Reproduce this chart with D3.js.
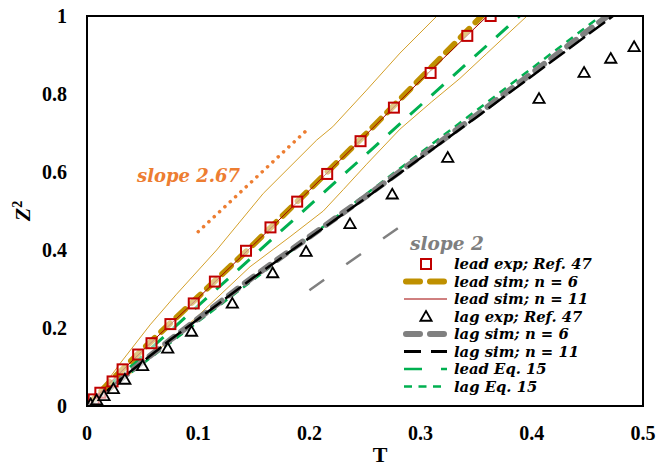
<!DOCTYPE html>
<html>
<head>
<meta charset="utf-8">
<script src="https://cdn.jsdelivr.net/npm/d3@7"></script>
<style>
  body { margin: 0; background: #fff; }
  svg { display: block; }
</style>
</head>
<body>
<div id="chart"></div>
<script>
// lead experiment (Ref. 47)
var leadExpT = [0, 0.006, 0.012, 0.023, 0.032, 0.046, 0.058, 0.075, 0.096, 0.115, 0.143, 0.165, 0.189, 0.216, 0.246, 0.276, 0.309, 0.342, 0.363];
var leadExpZ = [0, 0.017, 0.034, 0.063, 0.094, 0.132, 0.161, 0.21, 0.263, 0.319, 0.398, 0.458, 0.524, 0.595, 0.679, 0.765, 0.854, 0.949, 1.0];
// lag experiment (Ref. 47)
var lagExpT = [0, 0.0033, 0.0087, 0.0153, 0.0237, 0.034, 0.05, 0.0726, 0.094, 0.1307, 0.167, 0.197, 0.2365, 0.2745, 0.3244, 0.4065, 0.447, 0.471, 0.492];
var lagExpZ = [0, 0.005, 0.015, 0.026, 0.044, 0.068, 0.103, 0.148, 0.191, 0.263, 0.341, 0.396, 0.467, 0.543, 0.637, 0.788, 0.855, 0.891, 0.921];
// simulations
var leadSim6T = [0, 0.02, 0.05, 0.1, 0.15, 0.2, 0.25, 0.3, 0.355];
var leadSim6Z = [0, 0.06, 0.145, 0.28, 0.415, 0.555, 0.695, 0.84, 1.0];
var leadSim11T = [0, 0.02, 0.05, 0.1, 0.15, 0.2, 0.25, 0.3, 0.36];
var leadSim11Z = [0, 0.058, 0.142, 0.277, 0.414, 0.553, 0.693, 0.835, 1.0];
var lagSim6T = [0, 0.075, 0.15, 0.2545, 0.35, 0.468];
var lagSim6Z = [0, 0.17, 0.332, 0.545, 0.745, 1.0];
var lagSim11T = [0, 0.0746, 0.15, 0.2545, 0.35, 0.473];
var lagSim11Z = [0, 0.169, 0.33, 0.541, 0.74, 1.0];
// thin bands around lead sim
var bandUpT = [0, 0.012, 0.03, 0.0567, 0.08, 0.1166, 0.1585, 0.2066, 0.221, 0.2515, 0.2815, 0.3147];
var bandUpZ = [0, 0.04, 0.11, 0.208, 0.285, 0.4, 0.545, 0.682, 0.716, 0.81, 0.905, 1.0];
var bandLowT = [0, 0.02, 0.05, 0.0956, 0.1466, 0.1826, 0.2125, 0.2305, 0.2515, 0.2815, 0.31, 0.3354, 0.3595, 0.3957];
var bandLowZ = [0, 0.035, 0.11, 0.22, 0.357, 0.434, 0.5, 0.555, 0.62, 0.71, 0.78, 0.84, 0.904, 1.0];
// Eq. 15
var leadEqT = [0, 0.389];
var leadEqZ = [0, 1.0];
var lagEqT = [0, 0.462];
var lagEqZ = [0, 1.0];
// slope guides
var slope267T = [0.1, 0.196];
var slope267Z = [0.447, 0.703];
var slope2T = [0.2, 0.28];
var slope2Z = [0.297, 0.457];

var xTicks = [0, 0.1, 0.2, 0.3, 0.4, 0.5];
var yTicks = [0, 0.2, 0.4, 0.6, 0.8, 1];

var legendLabels = ['lead exp; Ref. 47', 'lead sim; n = 6', 'lead sim; n = 11', 'lag exp; Ref. 47',
    'lag sim; n = 6', 'lag sim; n = 11', 'lead Eq. 15', 'lag Eq. 15'];

var W = 658, H = 466;
var m = { left: 87, right: 15, top: 16, bottom: 60 };

var svg = d3.select('#chart').append('svg').attr('width', W).attr('height', H);

var x = d3.scaleLinear().domain([0, 0.5]).range([m.left, W - m.right]);
var y = d3.scaleLinear().domain([0, 1]).range([H - m.bottom, m.top]);

function pts(ts, zs) {
    return ts.map(function (t, i) { return [t, zs[i]]; });
}
var line = d3.line().x(function (d) { return x(d[0]); }).y(function (d) { return y(d[1]); });

svg.append('defs').append('clipPath').attr('id', 'plotclip')
    .append('rect').attr('x', x(0)).attr('y', y(1)).attr('width', x(0.5) - x(0)).attr('height', y(0) - y(1));

var g = svg.append('g').attr('clip-path', 'url(#plotclip)');

function drawLine(data, color, width, dash, cap) {
    return g.append('path').datum(data)
        .attr('d', line)
        .attr('fill', 'none')
        .attr('stroke', color)
        .attr('stroke-width', width)
        .attr('stroke-dasharray', dash || null)
        .attr('stroke-linecap', cap || 'butt');
}

// bands
drawLine(pts(bandUpT, bandUpZ), '#D4A02A', 1);
drawLine(pts(bandLowT, bandLowZ), '#D4A02A', 1);
// Eq 15
drawLine(pts(leadEqT, leadEqZ), '#00B050', 3, '16 13');
drawLine(pts(lagEqT, lagEqZ), '#00B050', 2.5, '8 6');
// lag sims
drawLine(pts(lagSim6T, lagSim6Z), '#808080', 6, '11 9', 'round');
drawLine(pts(lagSim11T, lagSim11Z), '#000', 2.5, '20 5');
// lead sims
drawLine(pts(leadSim6T, leadSim6Z), '#BF9000', 6, '12 9', 'round');
drawLine(pts(leadSim11T, leadSim11Z), '#A00000', 1);
// slope guides
drawLine(pts(slope267T, slope267Z), '#ED7D31', 3.5, '0.1 7.2', 'round');
drawLine(pts(slope2T, slope2Z), '#808080', 2.5, '18 27');

// markers
var sq = 10;
g.selectAll('rect.lead').data(pts(leadExpT, leadExpZ)).enter().append('rect')
    .attr('class', 'lead')
    .attr('x', function (d) { return x(d[0]) - sq / 2; })
    .attr('y', function (d) { return y(d[1]) - sq / 2; })
    .attr('width', sq).attr('height', sq)
    .attr('fill', '#fff').attr('fill-opacity', 0.5)
    .attr('stroke', '#C00000').attr('stroke-width', 2);

var tri = d3.symbol().type(d3.symbolTriangle).size(55);
g.selectAll('path.lag').data(pts(lagExpT, lagExpZ)).enter().append('path')
    .attr('class', 'lag')
    .attr('d', tri)
    .attr('transform', function (d) { return 'translate(' + x(d[0]) + ',' + (y(d[1]) + 1) + ')'; })
    .attr('fill', '#fff').attr('fill-opacity', 0.6)
    .attr('stroke', '#000').attr('stroke-width', 1.8);

// frame
svg.append('rect')
    .attr('x', x(0)).attr('y', y(1))
    .attr('width', x(0.5) - x(0)).attr('height', y(0) - y(1))
    .attr('fill', 'none').attr('stroke', '#000').attr('stroke-width', 2);

// tick labels
var tickFont = '"Liberation Serif", "Times New Roman", serif';
svg.selectAll('text.xt').data(xTicks).enter().append('text')
    .attr('class', 'xt')
    .attr('x', function (d) { return x(d); })
    .attr('y', 440)
    .attr('text-anchor', 'middle')
    .style('font-family', tickFont).style('font-weight', 'bold').style('font-size', '20px')
    .text(function (d) { return d3.format('')(d); });

svg.selectAll('text.yt').data(yTicks).enter().append('text')
    .attr('class', 'yt')
    .attr('x', 67)
    .attr('y', function (d) { return y(d) + 7; })
    .attr('text-anchor', 'end')
    .style('font-family', tickFont).style('font-weight', 'bold').style('font-size', '20px')
    .text(function (d) { return d3.format('')(d); });

// axis titles
svg.append('text')
    .attr('x', 380).attr('y', 462)
    .attr('text-anchor', 'middle')
    .style('font-family', tickFont).style('font-weight', 'bold').style('font-size', '22px')
    .text('T');

var yt = svg.append('text')
    .attr('transform', 'translate(30,211) rotate(-90)')
    .attr('text-anchor', 'middle')
    .style('font-family', tickFont).style('font-weight', 'bold').style('font-size', '22px');
yt.append('tspan').style('font-style', 'italic').text('Z');
yt.append('tspan').attr('dy', -8).style('font-size', '14px').text('2');

// slope labels
var noteFont = '"DejaVu Serif", "Liberation Serif", serif';
svg.append('text')
    .attr('x', 137).attr('y', 182)
    .style('font-family', noteFont).style('font-weight', 'bold').style('font-style', 'italic')
    .style('font-size', '18px').attr('fill', '#ED7D31')
    .text('slope 2.67');
svg.append('text')
    .attr('x', 410).attr('y', 250)
    .style('font-family', noteFont).style('font-weight', 'bold').style('font-style', 'italic')
    .style('font-size', '18.5px').attr('fill', '#7F7F7F')
    .text('slope 2');

// legend
var legY0 = 264, legDy = 17.5;
var lg = svg.append('g');
var styles = [
    { type: 'square' },
    { type: 'line', color: '#BF9000', width: 6, dash: '14 10', cap: 'round' },
    { type: 'line', color: '#A00000', width: 1 },
    { type: 'tri' },
    { type: 'line', color: '#808080', width: 6, dash: '14 10', cap: 'round' },
    { type: 'line', color: '#000', width: 3, dash: '17 10' },
    { type: 'line', color: '#00B050', width: 2.5, dash: '18 19 6' },
    { type: 'line', color: '#00B050', width: 2.5, dash: '8 6.5' }
];
legendLabels.forEach(function (lab, i) {
    var yy = legY0 + i * legDy;
    var s = styles[i];
    if (s.type === 'square') {
        lg.append('rect').attr('x', 426 - 5).attr('y', yy - 5).attr('width', 10).attr('height', 10)
            .attr('fill', '#fff').attr('stroke', '#C00000').attr('stroke-width', 2);
    } else if (s.type === 'tri') {
        lg.append('path').attr('d', tri).attr('transform', 'translate(426,' + (yy + 1) + ')')
            .attr('fill', '#fff').attr('stroke', '#000').attr('stroke-width', 1.8);
    } else {
        lg.append('line')
            .attr('x1', s.cap === 'round' ? 406 : 404).attr('x2', s.cap === 'round' ? 444 : 447)
            .attr('y1', yy).attr('y2', yy)
            .attr('stroke', s.color).attr('stroke-width', s.width)
            .attr('stroke-dasharray', s.dash || null)
            .attr('stroke-linecap', s.cap || 'butt');
    }
    lg.append('text')
        .attr('x', 454).attr('y', yy + 5)
        .style('font-family', noteFont).style('font-weight', 'bold').style('font-style', 'italic')
        .style('font-size', '14.8px')
        .text(lab);
});
</script>
</body>
</html>
